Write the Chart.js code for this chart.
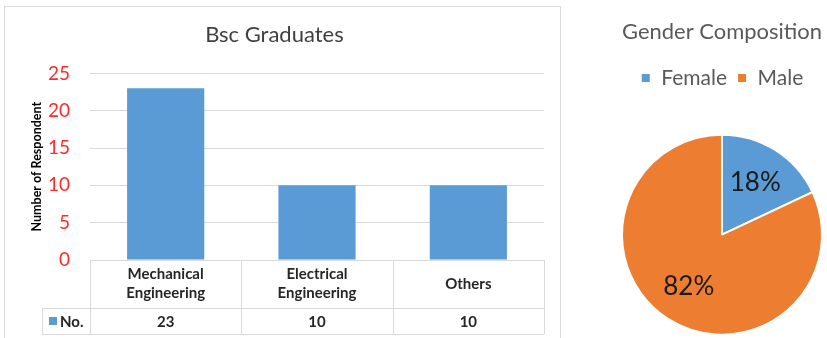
<!DOCTYPE html>
<html>
<head>
<meta charset="utf-8">
<script src="https://cdn.jsdelivr.net/npm/chart.js@4.4.1/dist/chart.umd.min.js"></script>
<style>
  html, body { margin: 0; padding: 0; width: 827px; height: 338px; overflow: hidden; background: #fff; }
  #barBox { position: absolute; left: 4px; top: 6px; width: 557px; height: 334px; box-sizing: border-box;
            border: 1px solid #d9d9d9; border-bottom: none; }
  #pieBox { position: absolute; left: 600px; top: 0; width: 227px; height: 371px; }
</style>
</head>
<body>
<div id="barBox"><canvas id="bar"></canvas></div>
<div id="pieBox"><canvas id="pie"></canvas></div>
<script>
// data
var categories = [['Mechanical', 'Engineering'], ['Electrical', 'Engineering'], 'Others'];
var counts = [23, 10, 10];
var seriesName = 'No.';
var genders = ['Female', 'Male'];
var genderShare = [18, 82];

var FONT = 'Lato, "Open Sans", sans-serif';
var BLUE = '#5b9bd5';
var ORANGE = '#ed7d31';
var LINE = '#d9d9d9';

// data table under the bar chart (Excel style)
var tablePlugin = {
  id: 'dataTable',
  afterDraw: function (chart) {
    var ctx = chart.ctx, area = chart.chartArea, xs = chart.scales.x;
    var n = categories.length;
    var colW = (area.right - area.left) / n;
    var top = area.bottom, mid = top + 48, bot = top + 74;
    var keyLeft = 37;

    ctx.save();
    ctx.strokeStyle = LINE;
    ctx.lineWidth = 1;
    ctx.beginPath();
    ctx.moveTo(area.left, top + 0.5); ctx.lineTo(area.right, top + 0.5);
    ctx.moveTo(keyLeft, mid + 0.5); ctx.lineTo(area.right, mid + 0.5);
    ctx.moveTo(keyLeft, bot + 0.5); ctx.lineTo(area.right, bot + 0.5);
    ctx.moveTo(keyLeft + 0.5, mid); ctx.lineTo(keyLeft + 0.5, bot);
    for (var i = 0; i <= n; i++) {
      var x = Math.round(area.left + i * colW) + 0.5;
      ctx.moveTo(x, top); ctx.lineTo(x, bot);
    }
    ctx.stroke();

    ctx.fillStyle = '#262626';
    ctx.font = 'bold 15px ' + FONT;
    ctx.textAlign = 'center';
    ctx.textBaseline = 'middle';
    categories.forEach(function (c, i) {
      var cx = xs.getPixelForValue(i);
      var lines = Array.isArray(c) ? c : [c];
      var lh = 19;
      var y0 = (top + mid) / 2 - (lines.length - 1) * lh / 2;
      lines.forEach(function (t, k) { ctx.fillText(t, cx, y0 + k * lh); });
      ctx.fillText(String(counts[i]), cx, (mid + bot) / 2 + 1);
    });

    // legend key cell
    var ky = (mid + bot) / 2;
    ctx.fillStyle = BLUE;
    ctx.fillRect(keyLeft + 7, ky - 4, 8, 8);
    ctx.fillStyle = '#262626';
    ctx.textAlign = 'left';
    ctx.fillText(seriesName, keyLeft + 18, ky + 1);
    ctx.restore();
  }
};

new Chart(document.getElementById('bar'), {
  type: 'bar',
  data: {
    labels: categories,
    datasets: [{
      label: seriesName,
      data: counts,
      backgroundColor: BLUE,
      barPercentage: 0.51,
      categoryPercentage: 1
    }]
  },
  options: {
    responsive: true,
    maintainAspectRatio: false,
    animation: false,
    layout: { padding: { left: 0, right: 16, top: 0, bottom: 0 } },
    plugins: {
      legend: { display: false },
      tooltip: { enabled: false },
      title: {
        display: true,
        text: 'Bsc Graduates',
        color: '#404040',
        font: { family: FONT, size: 22, weight: 'normal' },
        padding: { top: 15, bottom: 25 }
      }
    },
    scales: {
      x: {
        grid: { display: false },
        border: { display: false },
        ticks: { display: false },
        afterFit: function (s) { s.height = 80; }
      },
      y: {
        min: 0,
        max: 25,
        ticks: {
          stepSize: 5,
          color: '#ff2a2a',
          padding: 20,
          font: { family: FONT, size: 19 }
        },
        grid: { color: LINE, drawTicks: false },
        border: { display: false },
        title: {
          display: true,
          text: 'Number of Respondent',
          color: '#000',
          font: { family: FONT, size: 12.5, weight: 'bold' },
          padding: { top: 24 }
        },
        afterFit: function (s) { s.width = 85; }
      }
    }
  },
  plugins: [tablePlugin]
});

// percentage labels inside the pie slices
var pieLabels = {
  id: 'pieLabels',
  afterDatasetsDraw: function (chart) {
    var ctx = chart.ctx;
    var meta = chart.getDatasetMeta(0);
    ctx.save();
    ctx.fillStyle = '#1a1a1a';
    ctx.font = '26px ' + FONT;
    ctx.textAlign = 'center';
    ctx.textBaseline = 'middle';
    meta.data.forEach(function (arc, i) {
      var p = arc.getProps(['x', 'y', 'startAngle', 'endAngle', 'outerRadius'], true);
      var a = (p.startAngle + p.endAngle) / 2;
      var r = p.outerRadius * 0.62;
      ctx.fillText(genderShare[i] + '%', p.x + Math.cos(a) * r, p.y + Math.sin(a) * r);
    });
    ctx.restore();
  }
};

new Chart(document.getElementById('pie'), {
  type: 'pie',
  data: {
    labels: genders,
    datasets: [{
      data: genderShare,
      backgroundColor: [BLUE, ORANGE],
      borderColor: '#fff',
      borderWidth: 2
    }]
  },
  options: {
    responsive: true,
    maintainAspectRatio: false,
    animation: false,
    radius: 100,
    layout: { padding: { left: 22, right: 5, top: 0, bottom: 0 } },
    plugins: {
      tooltip: { enabled: false },
      title: {
        display: true,
        text: 'Gender Composition',
        color: '#595959',
        font: { family: FONT, size: 22, weight: 'normal' },
        padding: { top: 19, bottom: 12 }
      },
      legend: {
        position: 'top',
        labels: {
          color: '#595959',
          boxWidth: 10,
          boxHeight: 10,
          padding: 10,
          font: { family: FONT, size: 21 }
        }
      }
    }
  },
  plugins: [pieLabels]
});
</script>
</body>
</html>
